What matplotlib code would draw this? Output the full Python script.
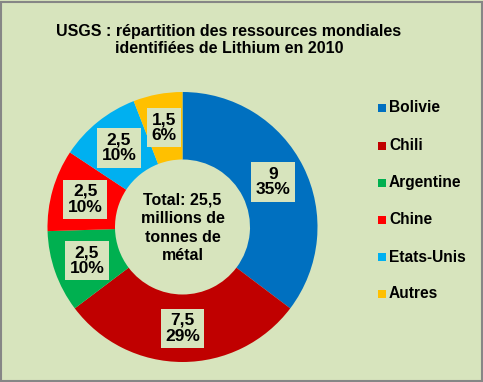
import matplotlib.pyplot as plt
from matplotlib.patches import Rectangle
import numpy as np

plt.rcParams['font.family'] = ['Liberation Sans', 'DejaVu Sans']

categories = ['Bolivie', 'Chili', 'Argentine', 'Chine', 'Etats-Unis', 'Autres']
values = [9, 7.5, 2.5, 2.5, 2.5, 1.5]
value_labels = ['9', '7,5', '2,5', '2,5', '2,5', '1,5']
colors = ['#0070C0', '#C00000', '#00B050', '#FF0000', '#00B0F0', '#FFC000']
title = "USGS : répartition des ressources mondiales\nidentifiées de Lithium en 2010"
center_text = "Total: 25,5\nmillions de\ntonnes de\nmétal"

W, H = 483, 382
bg = '#D7E4BD'
fig = plt.figure(figsize=(W / 100, H / 100), dpi=100)
fig.patch.set_facecolor(bg)
ax = fig.add_axes([0, 0, 1, 1])

total = sum(values)
cx, cy, R = 182.5, H - 227, 135
wedges, _ = ax.pie(values, colors=colors, startangle=90, counterclock=False,
                   center=(cx, cy), radius=R, wedgeprops=dict(width=R * 0.5, linewidth=0),
                   frame=True)
ax.set_xlim(0, W)
ax.set_ylim(0, H)
ax.set_aspect('equal')
ax.axis('off')

ax.add_patch(Rectangle((1, 1), W - 2.5, H - 2.5, fill=False, edgecolor='#868686', lw=1.5))

ang = 90.0
for v, vl in zip(values, value_labels):
    span = v / total * 360
    mid = np.deg2rad(ang - span / 2)
    ang -= span
    r = R * 0.75
    pct = f"{round(v / total * 100):.0f}%"
    ax.text(cx + r * np.cos(mid), cy + r * np.sin(mid), f"{vl}\n{pct}",
            ha='center', va='center', fontsize=12.5, fontweight='bold', linespacing=1.05,
            bbox=dict(boxstyle='square,pad=0.25', facecolor=bg, edgecolor='none'))

ax.text(cx, cy - 1, center_text, ha='center', va='center', fontsize=11.5, fontweight='bold',
        linespacing=1.3)

ax.text(229, H - 40, title, ha='center', va='center', fontsize=11.5, fontweight='bold',
        linespacing=1.15)

ys = [108, 146, 183, 220, 257, 294]
for cat, col, y in zip(categories, colors, ys):
    ax.add_patch(Rectangle((378, H - y - 3.5), 7.5, 7.5, facecolor=col, edgecolor='none'))
    ax.text(389, H - y, cat, ha='left', va='center', fontsize=11.2, fontweight='bold')

fig.savefig('out.png', dpi=100, facecolor=bg)
